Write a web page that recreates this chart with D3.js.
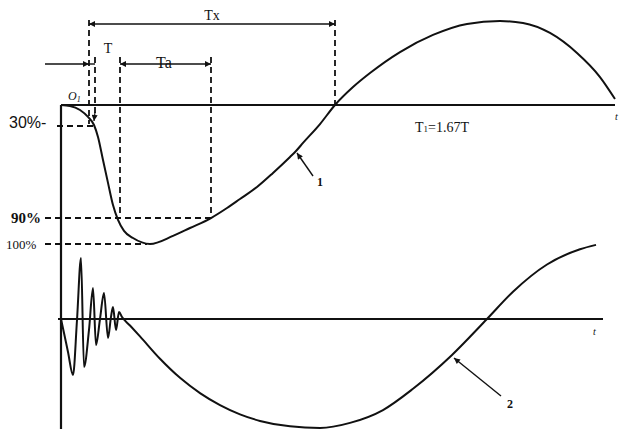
<!DOCTYPE html>
<html><head><meta charset="utf-8">
<script src="https://cdn.jsdelivr.net/npm/d3@7"></script>
<style>body{margin:0;background:#fff}svg{display:block}</style>
</head><body>
<svg id="c" width="624" height="429"></svg>
<script>
// Curve 1: response (time units, drop in %-scale units, positive = down)
const curve1T = [0,18,38,54,66,74,84,94,104,114,126,144,178,224,258,300,332,358,392,424,458,470,484,518,548,584,618,678,744,812,878,924,978,1032,1078,1108];
const curve1V = [0,0.7,3.6,8.6,14.4,23,39.6,56,72,82.7,90.6,95.7,100,94.2,88.5,81.3,74.1,67.6,59,48.9,37.4,33.1,27.3,13.7,0,-12.9,-23,-38.1,-50.4,-58.3,-60.4,-59,-51.8,-37.4,-20.1,-4.3];
// Curve 2: oscillating signal
const curve2T = [0,6,14,24,32,40,46,56,64,70,78,86,94,100,104,110,116,122,138,158,198,238,278,318,358,398,458,518,578,644,704,782,852,904,972,1038,1070];
const curve2V = [0,12.8,30.3,51.4,0.9,-56,44,10,-28.4,23.9,0,-23.9,17.4,-2,-11,10.1,-6.4,-1.8,6,16,36.5,54,68,79,87.5,93.5,98.5,100,95.3,83.5,64,33,0,-25,-50,-64,-68];
// Level marks
const levelLabels = ["30%-","90%","100%"];
const levelValues = [15.1, 81.3, 100];
// Time marks
const markNames = ["Tx0","T1","Ta0","Ta1","Tx1"];
const markTimes = [56, 68, 118, 300, 548];
const note = "T₁=1.67T";

const svg = d3.select("#c");
const x = d3.scaleLinear().domain([0,1102]).range([61,612]);
const y1 = d3.scaleLinear().domain([0,100]).range([105,244]);
const y2 = d3.scaleLinear().domain([0,100]).range([319,428]);
const mt = Object.fromEntries(markNames.map((n,i)=>[n,markTimes[i]]));

const defs = svg.append("defs");
defs.append("marker").attr("id","ah").attr("viewBox","0 0 10 10").attr("refX",10).attr("refY",5)
  .attr("markerWidth",8).attr("markerHeight",6).attr("markerUnits","userSpaceOnUse").attr("orient","auto-start-reverse")
  .append("path").attr("d","M0,0L10,5L0,10Z").attr("fill","#111");

const ink = "#111";
// axes
svg.append("line").attr("x1",x(0)).attr("x2",615).attr("y1",y1(0)).attr("y2",y1(0)).attr("stroke",ink).attr("stroke-width",2);
svg.append("line").attr("x1",x(0)-3).attr("x2",603).attr("y1",y2(0)).attr("y2",y2(0)).attr("stroke",ink).attr("stroke-width",2);
svg.append("line").attr("x1",x(0)).attr("x2",x(0)).attr("y1",y1(0)).attr("y2",429).attr("stroke",ink).attr("stroke-width",2.2);

// dashed guides
const dash = "6,4";
function dl(x1,y1_,x2,y2_){svg.append("line").attr("x1",x1).attr("y1",y1_).attr("x2",x2).attr("y2",y2_)
  .attr("stroke",ink).attr("stroke-width",1.8).attr("stroke-dasharray",dash);}
dl(x(mt.Tx0),20,x(mt.Tx0),124);
dl(x(mt.T1),57,x(mt.T1),118);
dl(x(mt.Ta0),57,x(mt.Ta0),y1(levelValues[1]));
dl(x(mt.Ta1),57,x(mt.Ta1),y1(levelValues[1]));
dl(x(mt.Tx1),20,x(mt.Tx1),y1(0));
dl(57,y1(levelValues[0]),x(mt.T1),y1(levelValues[0]));
dl(45,y1(levelValues[1]),x(mt.Ta1),y1(levelValues[1]));
dl(45,y1(levelValues[2]),x(172),y1(levelValues[2]));
// small arrow to curve on T line
svg.append("line").attr("x1",x(mt.T1)).attr("x2",x(mt.T1)-1).attr("y1",112).attr("y2",121).attr("stroke",ink).attr("stroke-width",1.2).attr("marker-end","url(#ah)");

// dimension lines
function arrow(x1,y1_,x2,y2_,start,end){const l=svg.append("line").attr("x1",x1).attr("y1",y1_).attr("x2",x2).attr("y2",y2_)
  .attr("stroke",ink).attr("stroke-width",1.4);
  if(start) l.attr("marker-start","url(#ah)"); if(end) l.attr("marker-end","url(#ah)");}
arrow(x(mt.Tx0),24,x(mt.Tx1),24,true,true);
arrow(45,64,x(mt.Tx0),64,false,true);
svg.append("line").attr("x1",x(mt.Tx0)).attr("x2",x(mt.T1)).attr("y1",64).attr("y2",64).attr("stroke",ink).attr("stroke-width",1.4);
arrow(x(mt.Ta0),64,x(mt.Ta1),64,true,true);

// curves
const line1 = d3.line().x((d,i)=>x(curve1T[i])).y(d=>y1(d)).curve(d3.curveMonotoneX);
svg.append("path").attr("d",line1(curve1V)).attr("fill","none").attr("stroke",ink).attr("stroke-width",2);
const line2 = d3.line().x((d,i)=>x(curve2T[i])).y(d=>y2(d)).curve(d3.curveMonotoneX);
svg.append("path").attr("d",line2(curve2V)).attr("fill","none").attr("stroke",ink).attr("stroke-width",2);

// leader arrows for curve labels
const i1 = curve1T.indexOf(470), i2 = curve2T.indexOf(782);
arrow(x(curve1T[i1])+17,y1(curve1V[i1])+25,x(curve1T[i1])+1,y1(curve1V[i1])+2,false,true);
arrow(x(curve2T[i2])+49,y2(curve2V[i2])+41,x(curve2T[i2])+2,y2(curve2V[i2])+3,false,true);

// texts
const serif = "'Liberation Serif','Times New Roman',serif";
function txt(s,xx,yy,size,opts={}){const t=svg.append("text").attr("x",xx).attr("y",yy).attr("font-family",opts.family||serif)
  .attr("font-size",size).attr("fill",ink).text(s);
  if(opts.bold) t.attr("font-weight","bold"); if(opts.italic) t.attr("font-style","italic");
  if(opts.anchor) t.attr("text-anchor",opts.anchor); return t;}
txt("Tx",212,20,14,{anchor:"middle"});
txt("T",108,53,14,{anchor:"middle"});
txt("Ta",164,68,16,{anchor:"middle"});
txt(levelLabels[0],9,128,16,{family:"'Liberation Sans',Arial,sans-serif"});
txt(levelLabels[1],11,223,15,{bold:true});
txt(levelLabels[2],6,249,13);
const o = txt("O",68,100,12,{italic:true});
o.append("tspan").attr("font-size",8).attr("dy",2).text("1");
txt("t",615,120,10,{italic:true});
txt("t",593,335,10,{italic:true});
txt("1",317,186,12,{bold:true});
txt("2",507,408,12,{bold:true});
const n = txt("T",415,132,14);
n.append("tspan").attr("font-size",9).text("1");
n.append("tspan").text(note.slice(2));
</script>
</body></html>
